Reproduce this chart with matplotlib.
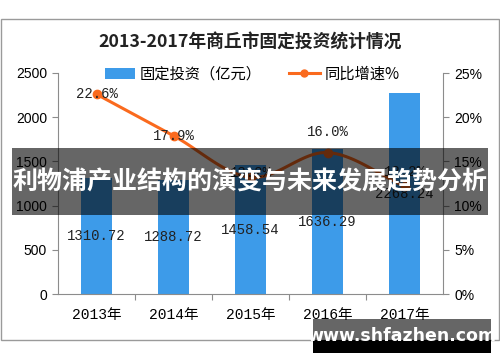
import numpy as np
import matplotlib.pyplot as plt
import matplotlib as mpl
from matplotlib.patches import Rectangle, Patch
from matplotlib.lines import Line2D


years = ["2013年", "2014年", "2015年", "2016年", "2017年"]
invest = [1310.72, 1288.72, 1458.54, 1636.29, 2268.24]
growth = [22.6, 17.9, 13.2, 16.0, 12.2]
left_ticks = [0, 500, 1000, 1500, 2000, 2500]
right_ticks = [0, 5, 10, 15, 20, 25]

title = "2013-2017年商丘市固定投资统计情况"
banner = "利物浦产业结构的演变与未来发展趋势分析"
site = "www.shfazhen.com"

CJK = ["Noto Sans CJK SC", "DejaVu Sans"]
MONO_CJK = ["Liberation Mono", "Noto Sans CJK SC"]
plt.rcParams["font.family"] = CJK

BLUE = "#3d9be9"
ORANGE = "#fa6a1e"
GRAY = "#8c8c8c"

W, H = 500, 362
fig = plt.figure(figsize=(5.0, 3.62), dpi=100)


def fx(px):
    return px / W


def fy(py):
    return 1 - py / H


# outer frame
fig.patches.append(Rectangle((fx(1), fy(340)), fx(498), 321 / H, transform=fig.transFigure,
                             fill=False, edgecolor="#9a9a9a", lw=1.0, zorder=0))

ax = fig.add_axes([fx(58), fy(294), fx(443 - 58), (294 - 73) / H])
ax2 = ax.twinx()

x = np.arange(len(years))
ax.bar(x, invest, width=0.41, color=BLUE, zorder=2)
for xi, v in zip(x, invest):
    ax.text(xi, v / 2, f"{v:.2f}", ha="center", va="center", fontsize=10,
            family=MONO_CJK, color="#222222", zorder=3)

ax.set_xlim(-0.5, len(years) - 0.5)
ax.set_ylim(0, 2500)
ax.set_yticks(left_ticks)
ax.set_yticklabels([str(t) for t in left_ticks], family="Liberation Sans", fontsize=10)
ax.set_xticks([i + 0.5 for i in range(len(years) - 1)])
ax.set_xticklabels([])
ax.set_xticks(x, minor=True)
ax.set_xticklabels(years, minor=True, family=MONO_CJK, fontsize=10.5)
ax.tick_params(axis="x", which="major", length=4, color=GRAY, direction="out")
ax.tick_params(axis="x", which="minor", length=0, pad=10)
ax.tick_params(axis="y", length=4, color=GRAY, pad=4)
for s in ["top", "right"]:
    ax.spines[s].set_visible(False)
for s in ["left", "bottom"]:
    ax.spines[s].set_color(GRAY)

# smooth line (Catmull-Rom through the points)
pts = np.column_stack([x, growth]).astype(float)
ext = np.vstack([2 * pts[0] - pts[1], pts, 2 * pts[-1] - pts[-2]])
curve = []
for i in range(1, len(ext) - 2):
    p0, p1, p2, p3 = ext[i - 1], ext[i], ext[i + 1], ext[i + 2]
    for t in np.linspace(0, 1, 30):
        c = 0.5 * ((2 * p1) + (-p0 + p2) * t + (2 * p0 - 5 * p1 + 4 * p2 - p3) * t ** 2
                   + (-p0 + 3 * p1 - 3 * p2 + p3) * t ** 3)
        curve.append(c)
curve = np.array(curve)
ax2.plot(curve[:, 0], curve[:, 1], color=ORANGE, lw=2.2, zorder=3)
ax2.plot(x, growth, "o", color=ORANGE, ms=6, zorder=4)

offsets = [(0, 0), (0, 0), (0, 3), (0, 15), (0, 10)]
for xi, g, off in zip(x, growth, offsets):
    ax2.annotate(f"{g:.1f}%", (xi, g), xytext=off, textcoords="offset points",
                 ha="center", va="center", fontsize=10, family=MONO_CJK,
                 color="#222222", zorder=5)

ax2.set_ylim(0, 25)
ax2.set_yticks(right_ticks)
ax2.set_yticklabels([f"{t}%" for t in right_ticks], family="Liberation Sans", fontsize=10)
ax2.tick_params(axis="y", length=4, color=GRAY, pad=4)
for s in ["top", "left", "bottom"]:
    ax2.spines[s].set_visible(False)
ax2.spines["right"].set_color(GRAY)

fig.text(0.5, fy(43), title, ha="center", va="center", fontsize=12.8, fontweight="bold",
         color="#222222")

handles = [Patch(facecolor=BLUE, edgecolor="none"),
           Line2D([], [], color=ORANGE, lw=2.2, marker="o", ms=5)]
fig.legend(handles, ["固定投资（亿元）", "同比增速%"], loc="center",
           bbox_to_anchor=(fx(252), fy(74)), ncol=2, frameon=False, fontsize=11,
           handlelength=2.0, handleheight=0.7, columnspacing=1.8, handletextpad=0.3)

# overlay banner
fig.patches.append(Rectangle((fx(12), fy(215)), fx(476), 67 / H, transform=fig.transFigure,
                             facecolor="black", alpha=0.6, edgecolor="none", zorder=10))
fig.text(0.5, fy(182), banner, ha="center", va="center", fontsize=18, fontweight="bold",
         color="white", zorder=11)

# site box
fig.patches.append(Rectangle((fx(313), fy(340)), fx(178), 21 / H, transform=fig.transFigure,
                             facecolor="black", alpha=0.6, edgecolor="none", zorder=10))
fig.patches.append(Rectangle((fx(313), fy(353)), fx(178), 13 / H, transform=fig.transFigure,
                             facecolor="black", edgecolor="none", zorder=10))
fig.text(fx(402), fy(336), site, ha="center", va="center", fontsize=12.5, fontweight="bold",
         color="white", family="DejaVu Sans", zorder=11)

fig.savefig("out.png", dpi=100)
